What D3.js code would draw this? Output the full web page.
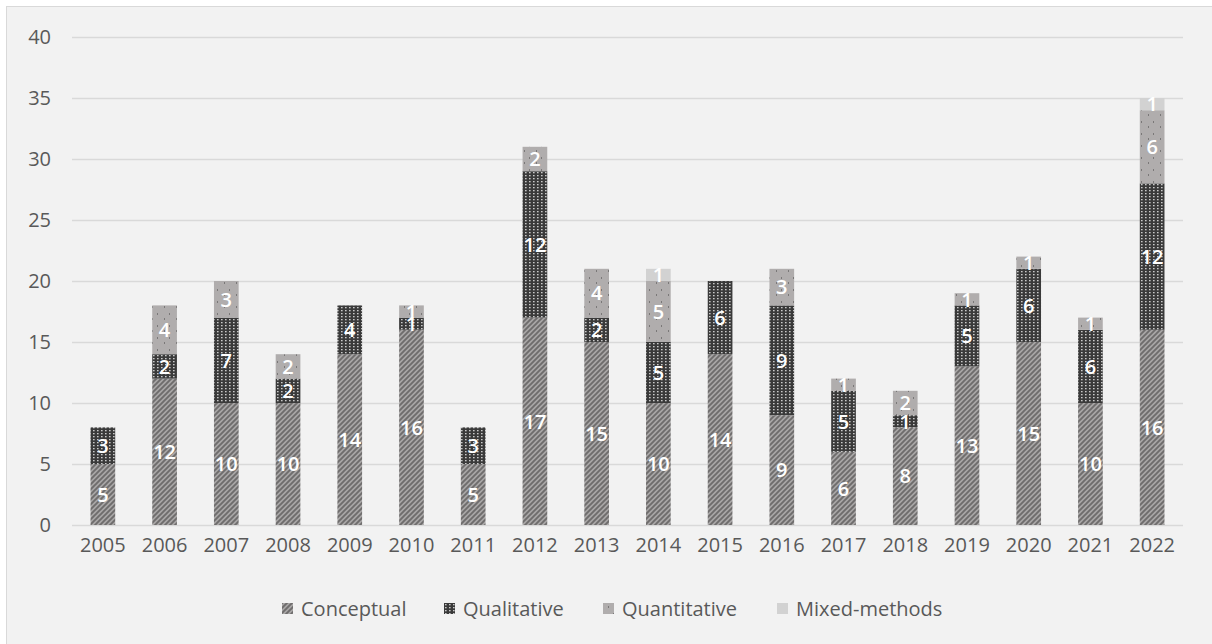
<!DOCTYPE html>
<html><head><meta charset="utf-8">
<script src="https://cdn.jsdelivr.net/npm/d3@7/dist/d3.min.js"></script>
<style>
html,body{margin:0;padding:0;background:#fff;}
svg{display:block;}
text{font-family:"Open Sans",sans-serif;}
</style></head>
<body>
<svg id="chart" width="1212" height="644"></svg>
<script>
const years = ["2005","2006","2007","2008","2009","2010","2011","2012","2013","2014","2015","2016","2017","2018","2019","2020","2021","2022"];
const conceptual   = [5,12,10,10,14,16,5,17,15,10,14,9,6,8,13,15,10,16];
const qualitative  = [3,2,7,2,4,1,3,12,2,5,6,9,5,1,5,6,6,12];
const quantitative = [0,4,3,2,0,1,0,2,4,5,0,3,1,2,1,1,1,6];
const mixed        = [0,0,0,0,0,0,0,0,0,1,0,0,0,0,0,0,0,1];
const seriesNames  = ["Conceptual","Qualitative","Quantitative","Mixed-methods"];
const yTicks = [0,5,10,15,20,25,30,35,40];

const svg = d3.select("#chart");
const W = 1212, H = 644;

// background + frame
svg.append("rect").attr("x",0).attr("y",0).attr("width",W).attr("height",H).attr("fill","#ffffff");
svg.append("rect").attr("x",6.5).attr("y",6.5).attr("width",W+10).attr("height",H+10)
  .attr("fill","#f2f2f2").attr("stroke","#d9d9d9").attr("stroke-width",1);

// patterns
const defs = svg.append("defs");
const p0 = defs.append("pattern").attr("id","pat0").attr("patternUnits","userSpaceOnUse")
  .attr("width",5).attr("height",5);
p0.append("rect").attr("width",5).attr("height",5).attr("fill","#a8a6a6");
p0.append("path").attr("d","M-1,1 L1,-1 M0,5 L5,0 M4,6 L6,4").attr("stroke","#6e6c6c").attr("stroke-width",1.9);
const p1 = defs.append("pattern").attr("id","pat1").attr("patternUnits","userSpaceOnUse")
  .attr("width",4).attr("height",3);
p1.append("rect").attr("width",4).attr("height",3).attr("fill","#3a3a3a");
p1.append("rect").attr("x",1).attr("y",1).attr("width",1.6).attr("height",1.3).attr("fill","#c9c9c9");
const p2 = defs.append("pattern").attr("id","pat2").attr("patternUnits","userSpaceOnUse")
  .attr("width",12).attr("height",12);
p2.append("rect").attr("width",12).attr("height",12).attr("fill","#b0adad");
p2.append("path").attr("d","M2,1 L1,2 L2,3 M8,6 L9,7 L8,8").attr("stroke","#7a7878").attr("stroke-width",1).attr("fill","none");
const p3 = defs.append("pattern").attr("id","pat3").attr("patternUnits","userSpaceOnUse")
  .attr("width",4).attr("height",4);
p3.append("rect").attr("width",4).attr("height",4).attr("fill","#d2d2d2");
const fills = ["url(#pat0)","url(#pat1)","url(#pat2)","url(#pat3)"];

// scales
const x = d3.scaleBand().domain(years).range([72,1183]).paddingInner(0.6).paddingOuter(0.3);
const y = d3.scaleLinear().domain([0,40]).range([525,37]);

// gridlines
svg.append("g").selectAll("line").data(yTicks).join("line")
  .attr("x1",72).attr("x2",1183)
  .attr("y1",d=>y(d)+0.5).attr("y2",d=>y(d)+0.5)
  .attr("stroke","#d9d9d9").attr("stroke-width",1.3);

// y axis labels
const yAxis = d3.axisLeft(y).tickValues(yTicks).tickSize(0).tickPadding(0);
const gy = svg.append("g").attr("transform","translate(51,0)").call(yAxis);
gy.select(".domain").remove();
gy.selectAll("text").attr("font-size",20).attr("fill","#595959").attr("font-family","'Open Sans',sans-serif");

// x axis labels
const xAxis = d3.axisBottom(x).tickSize(0).tickPadding(0);
const gx = svg.append("g").attr("transform","translate(0,538)").call(xAxis);
gx.select(".domain").remove();
gx.selectAll("text").attr("font-size",20).attr("fill","#595959").attr("font-family","'Open Sans',sans-serif");

// stack
const table = years.map((yr,i)=>({year:yr, Conceptual:conceptual[i], Qualitative:qualitative[i], Quantitative:quantitative[i], "Mixed-methods":mixed[i]}));
const stack = d3.stack().keys(seriesNames)(table);

const layers = svg.append("g").selectAll("g").data(stack).join("g").attr("fill",(d,i)=>fills[i]);
layers.selectAll("rect").data(d=>d).join("rect")
  .attr("x",d=>x(d.data.year))
  .attr("width",x.bandwidth())
  .attr("y",d=>y(d[1]))
  .attr("height",d=>y(d[0])-y(d[1]));

// labels
const lab = svg.append("g");
stack.forEach((s)=>{
  s.forEach(d=>{
    const v = d[1]-d[0];
    if(v<=0) return;
    lab.append("text")
      .attr("x",x(d.data.year)+x.bandwidth()/2)
      .attr("y",(y(d[0])+y(d[1]))/2)
      .attr("dy","0.36em")
      .attr("text-anchor","middle")
      .attr("font-size",20).attr("font-weight",600)
      .attr("fill","#ffffff")
      .text(v);
  });
});

// legend
const legendX = [282,444,603,777];
const lg = svg.append("g");
seriesNames.forEach((n,i)=>{
  lg.append("rect").attr("x",legendX[i]).attr("y",603).attr("width",11).attr("height",11).attr("fill",fills[i]);
  lg.append("text").attr("x",legendX[i]+19).attr("y",609).attr("dy","0.36em")
    .attr("font-size",20).attr("fill","#595959").text(n);
});
</script>
</body></html>
